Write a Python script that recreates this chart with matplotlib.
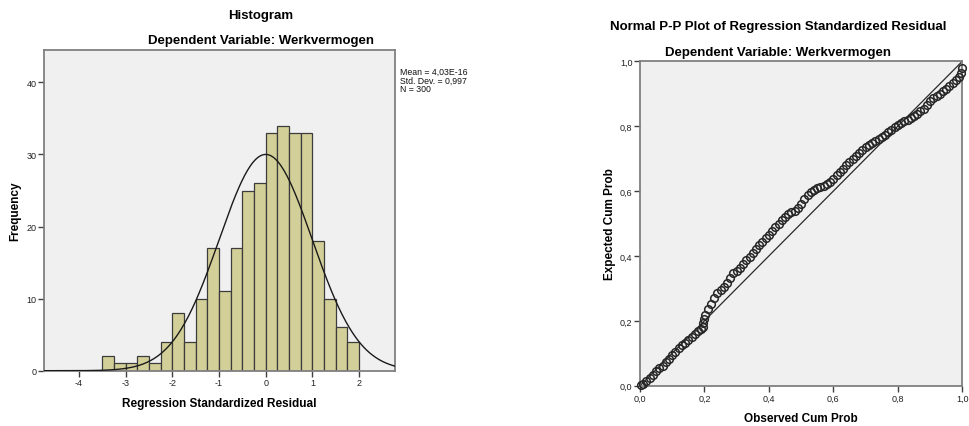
import matplotlib
matplotlib.use("Agg")
import matplotlib.pyplot as plt
import numpy as np

plt.rcParams['font.family'] = ['Liberation Sans', 'DejaVu Sans']

# histogram data
bin_start = -3.5
bin_width = 0.25
counts = [2, 1, 1, 2, 1, 4, 8, 4, 10, 17, 11, 17, 25, 26, 33, 34, 33, 33, 18, 10, 6, 4]
mean_val = 4.03e-16
sd_val = 0.997
n_val = 300
hist_xticks = [-4, -3, -2, -1, 0, 1, 2]
hist_yticks = [0, 10, 20, 30, 40]

# P-P plot points (observed, expected)
pp_obs = [0.003, 0.01, 0.02, 0.03, 0.04, 0.05, 0.06, 0.07, 0.08, 0.09,
          0.10, 0.11, 0.12, 0.13, 0.14, 0.15, 0.16, 0.17, 0.18, 0.19,
          0.195, 0.197, 0.199, 0.202, 0.21, 0.22, 0.23, 0.24, 0.25, 0.26,
          0.27, 0.28, 0.29, 0.30, 0.31, 0.32, 0.33, 0.34, 0.35, 0.36,
          0.37, 0.38, 0.39, 0.40, 0.41, 0.42, 0.43, 0.44, 0.45, 0.46,
          0.47, 0.48, 0.49, 0.50, 0.51, 0.52, 0.53, 0.54, 0.55, 0.56,
          0.57, 0.58, 0.59, 0.60, 0.61, 0.62, 0.63, 0.64, 0.65, 0.66,
          0.67, 0.68, 0.69, 0.70, 0.71, 0.72, 0.73, 0.74, 0.75, 0.76,
          0.77, 0.78, 0.79, 0.80, 0.81, 0.82, 0.83, 0.84, 0.85, 0.86,
          0.87, 0.88, 0.89, 0.90, 0.91, 0.92, 0.93, 0.94, 0.95, 0.96,
          0.97, 0.98, 0.99, 0.995, 0.998]
pp_exp = [0.002, 0.006, 0.014, 0.024, 0.034, 0.045, 0.054, 0.062, 0.072, 0.082,
          0.094, 0.104, 0.115, 0.124, 0.132, 0.141, 0.151, 0.160, 0.168, 0.176,
          0.180, 0.192, 0.206, 0.218, 0.235, 0.252, 0.270, 0.286, 0.295, 0.305,
          0.316, 0.332, 0.347, 0.355, 0.362, 0.375, 0.389, 0.398, 0.408, 0.421,
          0.433, 0.444, 0.455, 0.466, 0.478, 0.489, 0.500, 0.510, 0.520, 0.528,
          0.534, 0.540, 0.548, 0.561, 0.575, 0.588, 0.598, 0.604, 0.609, 0.613,
          0.617, 0.622, 0.627, 0.636, 0.648, 0.658, 0.668, 0.680, 0.690, 0.698,
          0.707, 0.716, 0.727, 0.736, 0.742, 0.749, 0.755, 0.760, 0.766, 0.774,
          0.781, 0.789, 0.797, 0.805, 0.811, 0.816, 0.820, 0.825, 0.831, 0.838,
          0.846, 0.854, 0.866, 0.878, 0.887, 0.893, 0.899, 0.907, 0.915, 0.923,
          0.932, 0.942, 0.953, 0.965, 0.978]
pp_ticks = [0.0, 0.2, 0.4, 0.6, 0.8, 1.0]
pp_ticklabels = ['0,0', '0,2', '0,4', '0,6', '0,8', '1,0']

W, H = 970, 427
fig = plt.figure(figsize=(W / 100, H / 100), dpi=100)
bg = '#f0f0f0'
frame = '#808080'

def style_axes(ax):
    ax.set_facecolor(bg)
    for s in ax.spines.values():
        s.set_color(frame)
        s.set_linewidth(1.3)
    ax.tick_params(direction='out', length=4, width=1, color='#404040',
                   labelsize=6.5, labelcolor='#222222', pad=1.5)

# --- histogram ---
ax1 = fig.add_axes([44 / W, 1 - 371.7 / H, 351 / W, 320.7 / H])
style_axes(ax1)
lefts = bin_start + bin_width * np.arange(len(counts))
ax1.bar(lefts, counts, width=bin_width, align='edge', color='#d3cf98',
        edgecolor='#3c3c3c', linewidth=0.9, zorder=2)
xs = np.linspace(-4.75, 2.77, 400)
curve = n_val * bin_width / (sd_val * np.sqrt(2 * np.pi)) * np.exp(-0.5 * ((xs - mean_val) / sd_val) ** 2)
ax1.plot(xs, curve, color='#1a1a1a', linewidth=1.0, zorder=3)
ax1.set_xlim(-4.75, 2.77)
ax1.set_ylim(0, 44.5)
ax1.set_xticks(hist_xticks)
ax1.set_xticklabels([str(v) for v in hist_xticks])
ax1.set_yticks(hist_yticks)
ax1.set_xlabel('Regression Standardized Residual', fontsize=8.5, fontweight='bold', labelpad=7)
ax1.set_ylabel('Frequency', fontsize=8.5, fontweight='bold', labelpad=4)
fig.text(400 / W, 1 - 68 / H, 'Mean = 4,03E-16\nStd. Dev. = 0,997\nN = %d' % n_val,
         fontsize=6.3, va='top', ha='left', linespacing=0.95, color='#111111')
fig.text(261 / W, 1 - 16 / H, 'Histogram', fontsize=9.5, fontweight='bold', ha='center', va='center')
fig.text(261 / W, 1 - 41 / H, 'Dependent Variable: Werkvermogen', fontsize=9.5,
         fontweight='bold', ha='center', va='center')

# --- P-P plot ---
ax2 = fig.add_axes([640 / W, 1 - 386.7 / H, 322.3 / W, 324.4 / H])
style_axes(ax2)
ax2.plot([0, 1], [0, 1], color='#2a2a2a', linewidth=0.9, zorder=2)
ax2.plot(pp_obs, pp_exp, linestyle='none', marker='o', markersize=5.5,
         markerfacecolor='none', markeredgecolor='#262626', markeredgewidth=1.1,
         zorder=3, clip_on=False)
ax2.set_xlim(0, 1)
ax2.set_ylim(0, 1)
ax2.set_xticks(pp_ticks)
ax2.set_xticklabels(pp_ticklabels)
ax2.set_yticks(pp_ticks)
ax2.set_yticklabels(pp_ticklabels)
ax2.set_xlabel('Observed Cum Prob', fontsize=8.5, fontweight='bold', labelpad=7)
ax2.set_ylabel('Expected Cum Prob', fontsize=8.5, fontweight='bold', labelpad=3)
fig.text(778 / W, 1 - 27 / H, 'Normal P-P Plot of Regression Standardized Residual',
         fontsize=9.5, fontweight='bold', ha='center', va='center')
fig.text(778 / W, 1 - 53 / H, 'Dependent Variable: Werkvermogen', fontsize=9.5,
         fontweight='bold', ha='center', va='center')

fig.savefig('out.png', dpi=100, facecolor='white')
